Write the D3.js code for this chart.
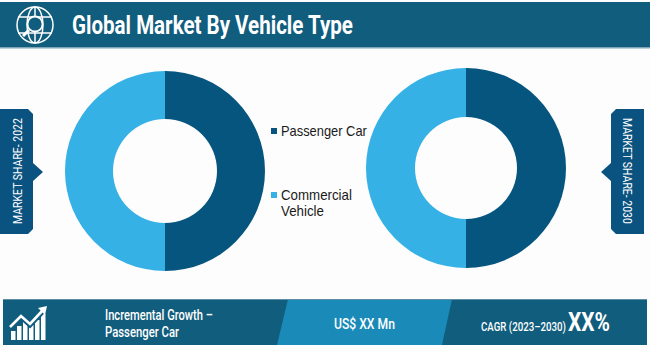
<!DOCTYPE html>
<html>
<head>
<meta charset="utf-8">
<script src="https://cdn.jsdelivr.net/npm/d3@7"></script>
<style>
html, body { margin: 0; padding: 0; background: #fdfdfd; overflow: hidden; }
svg { display: block; }
text { fill: #fff; font-family: "Roboto", sans-serif; }
.legend text { fill: #1a1a1a; font-family: "Liberation Sans", sans-serif; }
</style>
</head>
<body>
<svg id="chart" width="650" height="351"></svg>
<script>
var categories = ['Passenger Car', 'Commercial Vehicle'];
var legendLines = [['Passenger Car'], ['Commercial', 'Vehicle']];
var legendWidths = [[86], [71, 43]];
var share2022 = [50, 50];
var share2030 = [50, 50];
var title = 'Global Market By Vehicle Type';
var footerGrowth = ['Incremental Growth \u2013', 'Passenger Car'];
var growthWidths = [108, 74];
var footerValue = 'US$ XX Mn';
var footerCagr = 'CAGR (2023\u20132030)';
var footerPct = 'XX%';

var colors = d3.scaleOrdinal().domain(categories).range(['#05557f', '#35b1e6']);
var teal = '#115d7d', tagBlue = '#0a5280', midBlue = '#1a8ab8';

var svg = d3.select('#chart');

// the original uses a condensed face, so scale each text to its measured width
function label(parent, x, y, size, weight, width, str, angle) {
    var t = parent.append('text')
        .attr('font-size', size).attr('font-weight', weight)
        .text(str);
    var k = width / t.node().getComputedTextLength();
    t.attr('transform', 'translate(' + x + ',' + y + ') rotate(' + (angle || 0) + ') scale(' + k + ',1)');
    return t;
}

// header band
svg.append('rect').attr('x', 0).attr('y', 2).attr('width', 650).attr('height', 46).attr('fill', teal);
svg.append('rect').attr('x', 0).attr('y', 47).attr('width', 650).attr('height', 1.5).attr('fill', '#7fa6b8');
label(svg, 72, 33.5, 25, 700, 281, title);

// globe + magnifier icon
var globe = svg.append('g').attr('transform', 'translate(35,25)')
    .attr('fill', 'none').attr('stroke', '#fff').attr('stroke-width', 1.5);
globe.append('circle').attr('r', 18);
globe.append('ellipse').attr('rx', 8).attr('ry', 18);
globe.append('line').attr('x1', -17).attr('x2', 17).attr('y1', -8).attr('y2', -8);
globe.append('line').attr('x1', -17).attr('x2', 17).attr('y1', 8).attr('y2', 8);
globe.append('line').attr('x1', 0).attr('x2', 0).attr('y1', -18).attr('y2', 18);
globe.append('circle').attr('cx', 0).attr('cy', -1).attr('r', 7.5).attr('fill', teal).attr('stroke-width', 1.8);
globe.append('line').attr('x1', -6).attr('y1', 5).attr('x2', -12).attr('y2', 11).attr('stroke-width', 3);

// donuts
var pie = d3.pie().sort(null);
function donut(values, cx, cy, outer, inner) {
    var arc = d3.arc().innerRadius(inner).outerRadius(outer);
    var g = svg.append('g').attr('transform', 'translate(' + cx + ',' + cy + ')');
    g.selectAll('path').data(pie(values)).enter().append('path')
        .attr('d', arc)
        .attr('fill', function (d, i) { return colors(categories[i]); });
}
donut(share2022, 165, 171, 100, 52);
donut(share2030, 466, 168, 100, 51);

// legend
var legendY = d3.scalePoint().domain(categories).range([131, 195]);
var legend = svg.append('g').attr('class', 'legend');
categories.forEach(function (c, i) {
    legend.append('rect').attr('x', 271).attr('y', legendY(c) - 3).attr('width', 6).attr('height', 6).attr('fill', colors(c));
    legendLines[i].forEach(function (line, j) {
        label(legend, 281, legendY(c) + 5 + j * 16, 14, 400, legendWidths[i][j], line);
    });
});

// side tags
svg.append('path').attr('fill', tagBlue)
    .attr('d', 'M0,109H28L33,114V163L43,172L33,181V229L28,234H0Z');
svg.append('path').attr('fill', tagBlue)
    .attr('d', 'M644,109H616L611,114V163L601,172L611,181V229L616,234H644Z');
label(svg, 21.5, 224, 13, 400, 106, 'MARKET SHARE- 2022', -90);
label(svg, 622.5, 118, 13, 400, 106, 'MARKET SHARE- 2030', 90);

// footer band
svg.append('rect').attr('x', 3).attr('y', 299).attr('width', 644).attr('height', 46).attr('fill', teal);
svg.append('path').attr('fill', midBlue).attr('d', 'M288,299H452L442,345H277Z');
svg.append('rect').attr('x', 3).attr('y', 299).attr('width', 644).attr('height', 1).attr('fill', '#5f8da3');

// growth icon
var bars = svg.append('g').attr('fill', '#fff');
[[11, 331], [17, 326], [23, 320], [29, 325], [35, 320], [41, 314]].forEach(function (b) {
    bars.append('rect').attr('x', b[0]).attr('y', b[1]).attr('width', 4.5).attr('height', 340 - b[1]);
});
svg.append('path').attr('fill', 'none').attr('stroke', teal).attr('stroke-width', 5)
    .attr('d', 'M9,328L21,317L30,325L45,309');
svg.append('path').attr('fill', 'none').attr('stroke', '#fff').attr('stroke-width', 2.6)
    .attr('d', 'M10,327L21,316L30,324L43,310');
svg.append('path').attr('fill', '#fff').attr('d', 'M47,306L38,308L45,315Z');

footerGrowth.forEach(function (line, i) {
    label(svg, 105, 320 + i * 17, 14.5, 500, growthWidths[i], line);
});
label(svg, 334, 329, 15.5, 500, 61, footerValue);
label(svg, 481, 331, 13, 500, 85, footerCagr);
label(svg, 568, 331, 25, 700, 42, footerPct);
</script>
</body>
</html>
